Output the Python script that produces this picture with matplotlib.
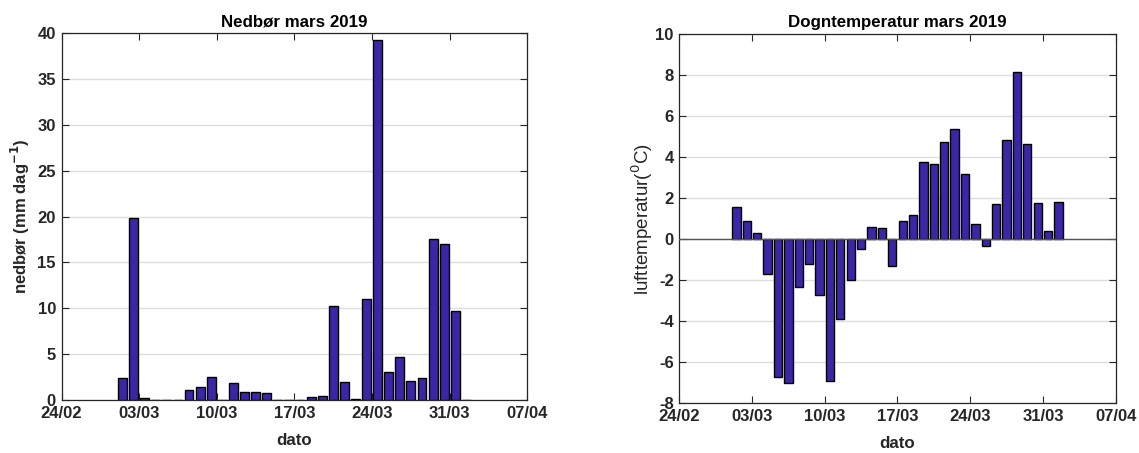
import datetime as dt
import matplotlib
matplotlib.use("Agg")
import matplotlib.pyplot as plt
import matplotlib.dates as mdates

plt.rcParams['font.family'] = ['Liberation Sans', 'DejaVu Sans']
plt.rcParams['axes.unicode_minus'] = False

# Daily values, 1 March - 1 April 2019
start = dt.datetime(2019, 3, 1)
n_days = 32
dates = [start + dt.timedelta(days=i, hours=12) for i in range(n_days)]

precip = [2.4, 19.8, 0.2, 0.0, 0.0, 0.0, 1.1, 1.4, 2.5, 0.0,
          1.9, 0.9, 0.9, 0.8, 0.0, 0.0, 0.0, 0.3, 0.4, 10.2,
          2.0, 0.15, 11.0, 39.3, 3.0, 4.7, 2.1, 2.4, 17.6, 17.0,
          9.7, 0.05]

temp = [1.55, 0.9, 0.3, -1.7, -6.7, -7.0, -2.35, -1.2, -2.7, -6.9,
        -3.9, -2.0, -0.5, 0.6, 0.55, -1.3, 0.9, 1.2, 3.75, 3.65,
        4.75, 5.35, 3.2, 0.75, -0.35, 1.7, 4.85, 8.15, 4.65, 1.75,
        0.38, 1.8]

xtick_dates = [dt.datetime(2019, 2, 24) + dt.timedelta(days=7 * k) for k in range(7)]

bar_color = '#3b27a6'
text_color = '#262626'

fig = plt.figure(figsize=(11.39, 4.53), dpi=100)
ax1 = fig.add_axes([0.0540, 0.1170, 0.4090, 0.8095])
ax2 = fig.add_axes([0.5964, 0.1097, 0.3831, 0.8150])


def style_axes(ax, yticks, ylim):
    ax.set_xlim(xtick_dates[0], xtick_dates[-1])
    ax.set_ylim(*ylim)
    ax.set_xticks(xtick_dates)
    ax.xaxis.set_major_formatter(mdates.DateFormatter('%d/%m'))
    ax.set_yticks(yticks)
    ax.yaxis.grid(True, color='#dedede', linewidth=1.0)
    ax.set_axisbelow(True)
    ax.tick_params(direction='in', top=True, right=True, length=5,
                   width=0.8, labelsize=12, colors=text_color,
                   labelcolor=text_color)
    ax.tick_params(axis='x', pad=4)
    ax.tick_params(axis='y', pad=4)
    for lbl in ax.get_xticklabels() + ax.get_yticklabels():
        lbl.set_fontweight('bold')
    for s in ax.spines.values():
        s.set_color(text_color)
        s.set_linewidth(0.9)


# Precipitation
ax1.bar(dates, precip, width=0.8, color=bar_color, edgecolor='black',
        linewidth=1.0, zorder=3)
style_axes(ax1, range(0, 41, 5), (0, 40))
ax1.set_title('Nedbør mars 2019', fontsize=12.2, fontweight='bold',
              color='black', pad=5)
ax1.set_xlabel('dato', fontsize=12.2, fontweight='bold', color=text_color,
               labelpad=9)
ax1.set_ylabel('nedbør (mm dag$^{\\mathbf{-1}}$)', fontsize=12,
               fontweight='bold', color=text_color, labelpad=4)

# Air temperature
ax2.bar(dates, temp, width=0.8, color=bar_color, edgecolor='black',
        linewidth=1.0, zorder=3)
ax2.axhline(0, color='#555555', linewidth=1.0, zorder=4)
style_axes(ax2, range(-8, 11, 2), (-8, 10))
ax2.set_title('Dogntemperatur mars 2019', fontsize=12.2, fontweight='bold',
              color='black', pad=5)
ax2.set_xlabel('dato', fontsize=12.2, fontweight='bold', color=text_color,
               labelpad=9)
ax2.set_ylabel('lufttemperatur($^0$C)', fontsize=13.5, color=text_color,
               labelpad=0)

fig.savefig('out.png', dpi=100)
